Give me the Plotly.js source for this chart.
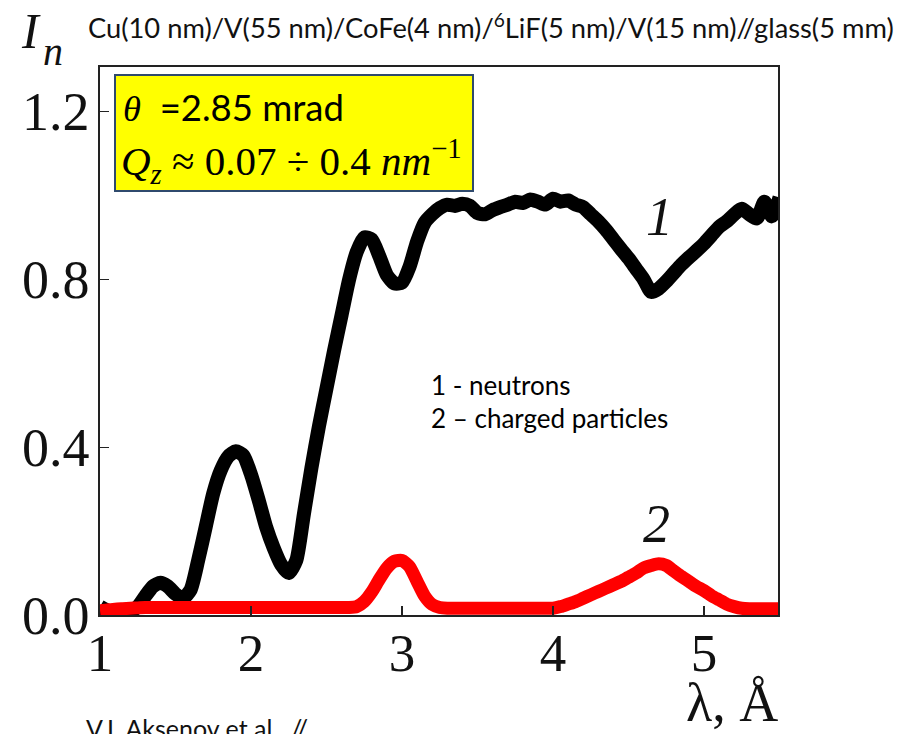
<!DOCTYPE html>
<html>
<head>
<meta charset="utf-8">
<script src="https://cdn.plot.ly/plotly-3.0.1.min.js"></script>
<style>
  html, body { margin: 0; padding: 0; background: #ffffff; }
  #chart { width: 905px; height: 734px; }
</style>
</head>
<body>
<div id="chart"></div>
<script>
// Wavelength grid, Å
const wavelength = [
  1.00, 1.05, 1.10, 1.15, 1.20, 1.25, 1.30, 1.35, 1.40, 1.45,
  1.50, 1.55, 1.60, 1.65, 1.70, 1.75, 1.80, 1.85, 1.90, 1.95,
  2.00, 2.05, 2.10, 2.15, 2.20, 2.25, 2.30, 2.35, 2.40, 2.45,
  2.50, 2.55, 2.60, 2.65, 2.70, 2.75, 2.80, 2.85, 2.90, 2.95,
  3.00, 3.05, 3.10, 3.15, 3.20, 3.25, 3.30, 3.35, 3.40, 3.45,
  3.50, 3.55, 3.60, 3.65, 3.70, 3.75, 3.80, 3.85, 3.90, 3.95,
  4.00, 4.05, 4.10, 4.15, 4.20, 4.25, 4.30, 4.35, 4.40, 4.45,
  4.50, 4.55, 4.60, 4.65, 4.70, 4.75, 4.80, 4.85, 4.90, 4.95,
  5.00, 5.05, 5.10, 5.15, 5.20, 5.25, 5.30, 5.35, 5.40, 5.45,
  5.50
];

// Curve 1: neutron intensity
const neutrons = [
  0.020, 0.010, 0.005, 0.005, 0.008, 0.020, 0.045, 0.068, 0.077, 0.068,
  0.050, 0.040, 0.060, 0.130, 0.210, 0.290, 0.345, 0.378, 0.390, 0.380,
  0.335, 0.275, 0.210, 0.160, 0.120, 0.100, 0.130, 0.240, 0.350, 0.450,
  0.540, 0.630, 0.715, 0.800, 0.865, 0.900, 0.895, 0.855, 0.810, 0.790,
  0.792, 0.830, 0.890, 0.935, 0.955, 0.970, 0.978, 0.975, 0.980, 0.975,
  0.958, 0.955, 0.965, 0.972, 0.978, 0.985, 0.982, 0.990, 0.985, 0.978,
  0.992, 0.985, 0.988, 0.978, 0.972, 0.955, 0.938, 0.918, 0.895, 0.872,
  0.850, 0.825, 0.800, 0.770, 0.778, 0.795, 0.815, 0.835, 0.852, 0.868,
  0.885, 0.905, 0.925, 0.938, 0.955, 0.968, 0.955, 0.945, 0.985, 0.950,
  0.995
];

// Curve 2: charged particles
const charged = [
  0.010, 0.012, 0.014, 0.015, 0.016, 0.017, 0.018, 0.018, 0.018, 0.018,
  0.018, 0.018, 0.018, 0.018, 0.018, 0.018, 0.018, 0.018, 0.018, 0.018,
  0.018, 0.018, 0.018, 0.018, 0.018, 0.018, 0.018, 0.018, 0.018, 0.018,
  0.018, 0.018, 0.018, 0.018, 0.020, 0.032, 0.055, 0.085, 0.112, 0.128,
  0.130, 0.115, 0.080, 0.045, 0.025, 0.018, 0.016, 0.016, 0.016, 0.016,
  0.016, 0.016, 0.016, 0.016, 0.016, 0.016, 0.016, 0.016, 0.016, 0.016,
  0.016, 0.020, 0.026, 0.032, 0.040, 0.048, 0.056, 0.064, 0.072, 0.080,
  0.090, 0.100, 0.112, 0.118, 0.122, 0.118, 0.105, 0.092, 0.080, 0.068,
  0.058, 0.046, 0.036, 0.026, 0.020, 0.016, 0.015, 0.015, 0.015, 0.015,
  0.015
];

const xTickVals = [1, 2, 3, 4, 5];
const xTickText = ['1', '2', '3', '4', '5'];
const yTickVals = [0, 0.4, 0.8, 1.2];
const yTickText = ['0.0', '0.4', '0.8', '1.2'];

// Page geometry
const W = 905, H = 734;
const M = { l: 100, r: 127, t: 67, b: 119 };
const PW = W - M.l - M.r, PH = H - M.t - M.b;
const px = v => (v - M.l) / PW;          // page pixel -> paper x
const py = v => (H - M.b - v) / PH;      // page pixel -> paper y

const SERIF = 'Liberation Serif, Times New Roman, serif';
const SANS = 'Lato, Carlito, Calibri, sans-serif';

const traces = [
  {
    x: wavelength, y: neutrons, type: 'scatter', mode: 'lines',
    line: { color: '#000000', width: 14, shape: 'spline', smoothing: 0.6 },
    hoverinfo: 'skip', showlegend: false
  },
  {
    x: wavelength, y: charged, type: 'scatter', mode: 'lines',
    line: { color: '#ff0000', width: 13, shape: 'spline', smoothing: 0.6 },
    hoverinfo: 'skip', showlegend: false
  }
];

const ann = (o) => Object.assign({ showarrow: false, xref: 'paper', yref: 'paper' }, o);

const layout = {
  width: W, height: H,
  margin: M,
  paper_bgcolor: '#ffffff', plot_bgcolor: '#ffffff',
  showlegend: false,
  xaxis: {
    range: [1, 5.49],
    tickvals: xTickVals, ticktext: xTickText,
    ticks: 'inside', ticklen: 9, tickwidth: 1.3, tickcolor: '#222',
    showline: true, linecolor: '#222', linewidth: 1.6, mirror: true,
    showgrid: false, zeroline: false,
    tickfont: { family: SERIF, size: 53, color: '#111' },
    ticklabelstandoff: -9
  },
  yaxis: {
    range: [0, 1.306],
    tickvals: yTickVals, ticktext: yTickText,
    ticks: 'inside', ticklen: 9, tickwidth: 1.3, tickcolor: '#222',
    showline: true, linecolor: '#222', linewidth: 1.6, mirror: true,
    showgrid: false, zeroline: false,
    tickfont: { family: SERIF, size: 54, color: '#111' },
    ticklabelstandoff: -2
  },
  shapes: [
    {
      type: 'rect', xref: 'paper', yref: 'paper',
      x0: px(115), x1: px(473), y0: py(191), y1: py(75),
      fillcolor: '#ffff00', line: { color: '#2f4a6d', width: 2 }, layer: 'above'
    }
  ],
  annotations: [
    // sample structure
    ann({ x: px(86), y: py(26), xanchor: 'left', yanchor: 'middle',
      text: 'Cu(10 nm)/V(55 nm)/CoFe(4 nm)/<sup>6</sup>LiF(5 nm)/V(15 nm)//glass(5 mm)',
      font: { family: SANS, size: 27.3, color: '#111' } }),
    // axis symbols
    ann({ x: px(31), y: py(31), xanchor: 'center', yanchor: 'middle',
      text: '<i>I</i>', font: { family: SERIF, size: 50, color: '#111' } }),
    ann({ x: px(53), y: py(52), xanchor: 'center', yanchor: 'middle',
      text: '<i>n</i>', font: { family: SERIF, size: 40, color: '#111' } }),
    ann({ x: px(780), y: py(703), xanchor: 'right', yanchor: 'middle',
      text: 'λ, Å', font: { family: SERIF, size: 54, color: '#111' } }),
    // measurement conditions
    ann({ x: px(121), y: py(107), xanchor: 'left', yanchor: 'middle',
      text: '<span style="font-family:Liberation Serif"><i>θ</i></span>  =2.85 mrad',
      font: { family: SANS, size: 36.5, color: '#000' } }),
    ann({ x: px(119), y: py(161), xanchor: 'left', yanchor: 'middle',
      text: '<i>Q</i><sub><i>z</i></sub> ≈ 0.07 ÷ 0.4 <i>nm</i><sup>−1</sup>',
      font: { family: SERIF, size: 41, color: '#000' } }),
    // curve labels
    ann({ x: px(659), y: py(217), xanchor: 'center', yanchor: 'middle',
      text: '<i>1</i>', font: { family: SERIF, size: 54, color: '#111' } }),
    ann({ x: px(656), y: py(524), xanchor: 'center', yanchor: 'middle',
      text: '<i>2</i>', font: { family: SERIF, size: 54, color: '#111' } }),
    ann({ x: px(429), y: py(385), xanchor: 'left', yanchor: 'middle',
      text: '1 - neutrons', font: { family: SANS, size: 26, color: '#000' } }),
    ann({ x: px(429), y: py(418), xanchor: 'left', yanchor: 'middle',
      text: '2 – charged particles', font: { family: SANS, size: 26, color: '#000' } }),
    // reference line (runs off the page bottom)
    ann({ x: px(84), y: py(711), xanchor: 'left', yanchor: 'top',
      text: 'V.I. Aksenov et al.  //', font: { family: SANS, size: 25, color: '#111' } })
  ]
};

Plotly.newPlot('chart', traces, layout, { displayModeBar: false, staticPlot: true });
</script>
</body>
</html>
